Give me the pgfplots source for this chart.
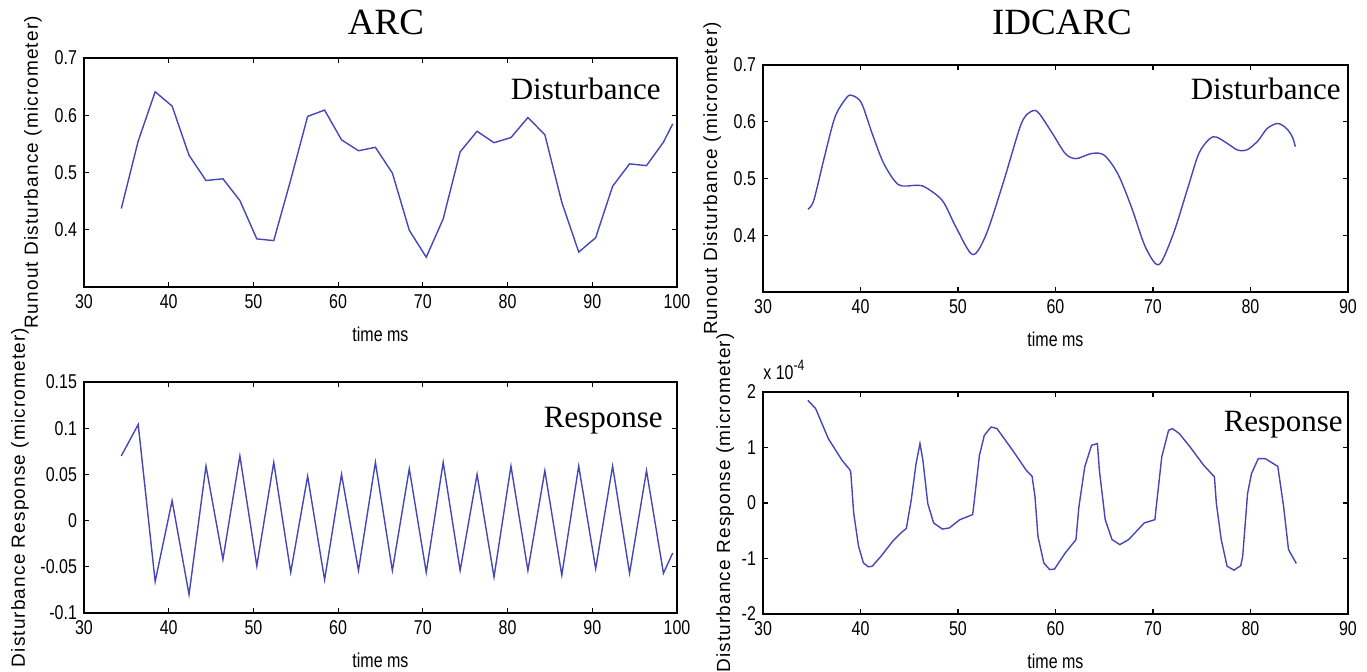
\documentclass[border=0pt]{standalone}
\usepackage{fontspec}
\setmainfont{Liberation Serif}
\newfontfamily\mlfont[FakeStretch=0.8]{Liberation Sans}
\newfontfamily\ylabfont[LetterSpace=6]{Liberation Sans}
\usepackage{pgfplots}
\pgfplotsset{compat=1.18}
\definecolor{mlblue}{RGB}{70,70,185}
\tikzset{annot/.style={font=\fontsize{15.5}{15.5}\selectfont, anchor=base east, inner sep=0pt}}
\pgfplotsset{
  mlaxis/.style={
    scale only axis,
    anchor=south west,
    axis line style={black, line width=0.75pt},
    tick style={black, line width=0.6pt},
    tick align=inside,
    major tick length=2.5pt,
    ticklabel style={font=\mlfont\fontsize{10}{10}\selectfont},
    /pgf/number format/assume math mode=true,
    xlabel={time ms},
    xlabel style={font=\mlfont\fontsize{10}{10}\selectfont, at={(axis description cs:0.5,0)}, anchor=north, inner sep=0pt, yshift=-20pt},
    ylabel style={font=\ylabfont\fontsize{9.5}{9.5}\selectfont, anchor=base, inner sep=0pt},
    no markers,
    clip mode=individual,
  },
  ml/.style={color=mlblue, line width=0.7pt, mark=none},
}
\begin{document}
\begin{tikzpicture}
\path[use as bounding box] (0pt,0pt) rectangle (683.5pt,336pt);
\node[font=\fontsize{18.5}{18.5}\selectfont, anchor=base] at (193pt,318.5pt) {ARC};
\node[font=\fontsize{18.5}{18.5}\selectfont, anchor=base] at (531pt,318.5pt) {IDCARC};

% Top-left: ARC disturbance
\begin{axis}[mlaxis, at={(42pt,192.5pt)}, width=296.5pt, height=114.5pt,
  xmin=30, xmax=100, ymin=0.3, ymax=0.7,
  xtick={30,40,50,60,70,80,90,100}, xticklabels={30,40,50,60,70,80,90,100},
  ytick={0.4,0.5,0.6,0.7}, yticklabels={0.4,0.5,0.6,0.7},
  ylabel={Runout Disturbance (micrometer)}, ylabel style={at={([xshift=-23pt]axis description cs:0,0.5)}}]
\addplot[ml] coordinates {
(34.4,0.437) (36.4,0.555) (38.4,0.641) (40.4,0.616) (42.4,0.530) (44.4,0.486)
(46.4,0.489) (48.4,0.451) (50.4,0.384) (52.4,0.381) (54.4,0.487) (56.4,0.598)
(58.4,0.609) (60.4,0.557) (62.4,0.538) (64.4,0.544) (66.4,0.499) (68.4,0.399)
(70.4,0.352) (72.4,0.419) (74.4,0.536) (76.4,0.572) (78.4,0.552) (80.4,0.561)
(82.4,0.596) (84.4,0.566) (86.4,0.448) (88.4,0.361) (90.4,0.386) (92.4,0.476)
(94.4,0.515) (96.4,0.512) (98.4,0.553) (99.5,0.585)};
\node[annot] at (rel axis cs:1,1) [xshift=-8pt, yshift=-21pt] {Disturbance};
\end{axis}

% Top-right: IDCARC disturbance
\begin{axis}[mlaxis, at={(381.5pt,190pt)}, width=292.5pt, height=113.5pt,
  xmin=30, xmax=90, ymin=0.3, ymax=0.7,
  xtick={30,40,50,60,70,80,90}, xticklabels={30,40,50,60,70,80,90},
  ytick={0.4,0.5,0.6,0.7}, yticklabels={0.4,0.5,0.6,0.7},
  ylabel={Runout Disturbance (micrometer)}, ylabel style={at={([xshift=-23pt]axis description cs:0,0.5)}}]
\addplot[ml, smooth] coordinates {
(34.6,0.446) (35.2,0.461) (36.3,0.538) (37.4,0.609) (38.6,0.643) (39.2,0.646)
(40.1,0.633) (41.2,0.579) (42.4,0.526) (43.9,0.489) (45.7,0.488) (46.6,0.485)
(48.4,0.461) (49.8,0.414) (51.5,0.366) (52.9,0.402) (54.7,0.496) (56.5,0.597)
(57.6,0.619) (58.3,0.615) (59.7,0.579) (61.0,0.544) (62.1,0.535) (63.7,0.544)
(65.0,0.541) (66.4,0.508) (67.8,0.449) (69.1,0.384) (70.2,0.351) (70.9,0.354)
(72.2,0.408) (73.6,0.485) (74.7,0.544) (75.8,0.570) (76.5,0.573) (77.6,0.562)
(78.7,0.550) (79.7,0.551) (80.8,0.567) (81.7,0.588) (82.8,0.597) (83.7,0.588)
(84.3,0.573) (84.6,0.556)};
\node[annot] at (rel axis cs:1,1) [xshift=-3.5pt, yshift=-17.5pt] {Disturbance};
\end{axis}

% Bottom-left: ARC response
\begin{axis}[mlaxis, at={(42pt,29.5pt)}, width=296.5pt, height=115.5pt,
  xmin=30, xmax=100, ymin=-0.1, ymax=0.15,
  xtick={30,40,50,60,70,80,90,100}, xticklabels={30,40,50,60,70,80,90,100},
  ytick={-0.1,-0.05,0,0.05,0.1,0.15}, yticklabels={-0.1,-0.05,0,0.05,0.1,0.15},
  ylabel={Disturbance Response (micrometer)}, ylabel style={at={([xshift=-29.5pt]axis description cs:0,0.5)}}]
\addplot[ml] coordinates {
(34.4,0.070) (36.4,0.104) (38.4,-0.066) (40.4,0.0215) (42.4,-0.080) (44.4,0.059)
(46.4,-0.042) (48.4,0.070) (50.4,-0.049) (52.4,0.063) (54.4,-0.056) (56.4,0.048)
(58.4,-0.064) (60.4,0.050) (62.4,-0.054) (64.4,0.063) (66.4,-0.054) (68.4,0.056)
(70.4,-0.056) (72.4,0.063) (74.4,-0.054) (76.4,0.050) (78.4,-0.061) (80.4,0.059)
(82.4,-0.054) (84.4,0.054) (86.4,-0.059) (88.4,0.059) (90.4,-0.052) (92.4,0.059)
(94.4,-0.057) (96.4,0.054) (98.4,-0.057) (99.5,-0.035)};
\node[annot] at (rel axis cs:1,1) [xshift=-7pt, yshift=-23pt] {Response};
\end{axis}

% Bottom-right: IDCARC response
\begin{axis}[mlaxis, at={(381.5pt,29pt)}, width=292.5pt, height=111pt,
  xmin=30, xmax=90, ymin=-2, ymax=2,
  xtick={30,40,50,60,70,80,90}, xticklabels={30,40,50,60,70,80,90},
  ytick={-2,-1,0,1,2}, yticklabels={-2,-1,0,1,2},
  ylabel={Disturbance Response (micrometer)}, ylabel style={at={([xshift=-16.5pt]axis description cs:0,0.5)}}]
\addplot[ml] coordinates {
(34.6,1.85) (35.4,1.70) (36.7,1.16) (38.1,0.77) (38.9,0.60) (39.0,0.56)
(39.3,-0.18) (39.8,-0.78) (40.3,-1.08) (40.8,-1.15) (41.2,-1.14) (42.1,-0.96)
(43.3,-0.69) (44.2,-0.53) (44.7,-0.46) (45.2,0.05) (45.7,0.71) (46.1,1.07)
(46.4,0.77) (46.9,-0.01) (47.5,-0.36) (48.4,-0.47) (49.1,-0.45) (50.2,-0.30)
(51.5,-0.21) (51.6,-0.07) (52.2,0.86) (52.7,1.22) (53.4,1.37) (54.0,1.34)
(55.6,0.95) (57.0,0.59) (57.6,0.48) (57.9,0.11) (58.2,-0.60) (58.8,-1.08)
(59.4,-1.20) (59.9,-1.19) (61.0,-0.90) (62.1,-0.66) (62.4,-0.07) (63.0,0.65)
(63.7,1.04) (64.3,1.07) (64.5,0.59) (65.1,-0.30) (65.8,-0.66) (66.6,-0.75)
(67.5,-0.66) (69.1,-0.36) (70.2,-0.30) (70.3,-0.12) (70.9,0.83) (71.6,1.31)
(72.0,1.34) (72.7,1.25) (73.8,1.01) (75.2,0.68) (76.3,0.47) (76.5,-0.01)
(77.0,-0.66) (77.6,-1.14) (78.3,-1.21) (79.0,-1.13) (79.2,-0.96) (79.7,0.17)
(80.1,0.53) (80.8,0.80) (81.5,0.80) (82.8,0.66) (83.4,-0.07) (83.9,-0.84)
(84.7,-1.09)};
\node[annot] at (rel axis cs:1,1) [xshift=-2.5pt, yshift=-20pt] {Response};
\node[anchor=base west, inner sep=0pt, font=\mlfont\fontsize{10}{10}\selectfont] at (rel axis cs:0,1) [yshift=6pt] {x 10\raisebox{4.5pt}{\fontsize{7.5}{7.5}\selectfont -4}};
\end{axis}
\end{tikzpicture}
\end{document}
